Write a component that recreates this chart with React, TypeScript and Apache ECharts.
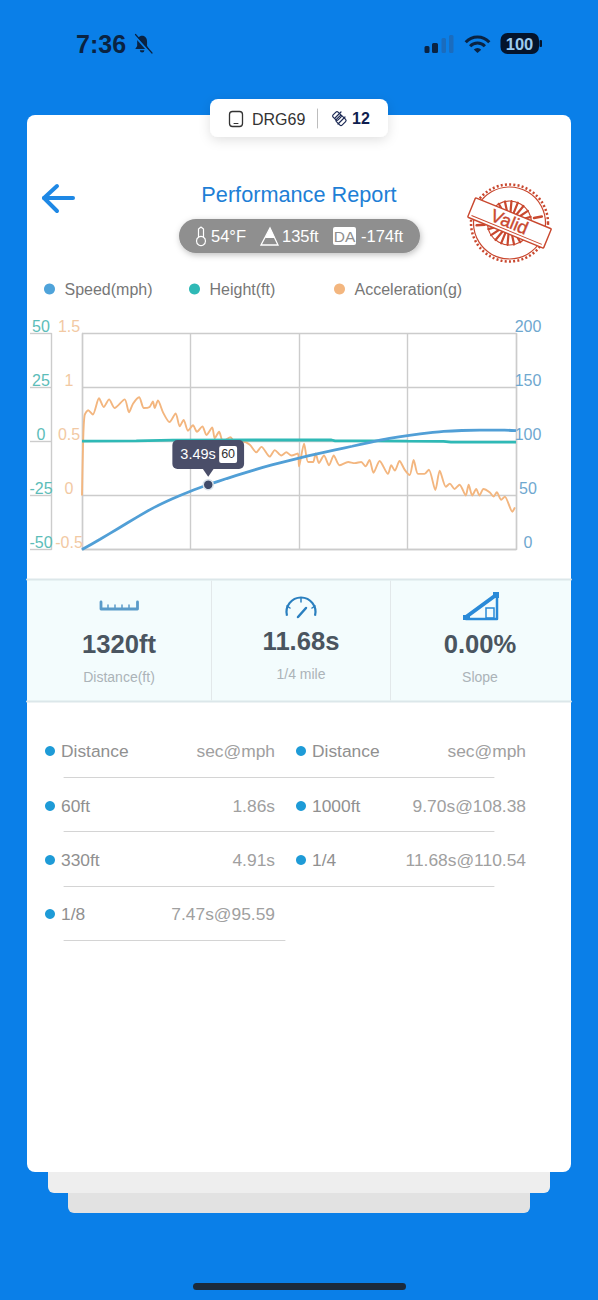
import React, { useEffect, useRef } from "react";
import * as echarts from "echarts";

const speedTimes = [0, 0.5, 1, 1.5, 2, 2.5, 3, 3.49, 4, 4.5, 5, 5.5, 6, 6.5, 7, 7.47, 8, 8.5, 9, 9.7, 10, 10.5, 11, 11.68, 12];
const speedValues = [0, 9.5, 19.5, 29.5, 39, 47, 54, 60, 65.7, 71, 76, 80.5, 84.7, 88.6, 92.2, 95.6, 99.5, 102.8, 105.5, 108.4, 109.4, 110.2, 110.5, 110.5, 110];

const heightTimes = [0, 1.5, 2.5, 5, 6.9, 7, 8, 9, 10, 10.2, 12];
const heightValues = [0.15, 0.3, 0.6, 0.7, 0.7, 0.3, 0.3, 0.15, 0.05, -0.3, -0.3];

const accelTimes = [0, 0.03, 0.07, 0.17, 0.3, 0.47, 0.6, 0.75, 0.9, 1.18, 1.3, 1.41, 1.58, 1.71, 1.87, 1.96, 2.01, 2.1, 2.24, 2.42, 2.59, 2.7, 2.81, 2.93, 3.07, 3.18, 3.33, 3.44, 3.6, 3.67, 3.79, 3.9, 4.1, 4.22, 4.45, 4.64, 4.82, 4.96, 5.19, 5.33, 5.51, 5.65, 5.79, 5.97, 6.0, 6.14, 6.25, 6.39, 6.46, 6.55, 6.69, 6.83, 6.96, 7.12, 7.36, 7.54, 7.72, 7.84, 7.95, 8.06, 8.23, 8.46, 8.55, 8.65, 8.78, 8.92, 9.06, 9.17, 9.29, 9.47, 9.59, 9.77, 9.89, 10.06, 10.17, 10.3, 10.44, 10.61, 10.69, 10.79, 10.9, 10.99, 11.1, 11.27, 11.38, 11.47, 11.59, 11.69, 11.9, 11.97];
const accelValues = [0, 0.48, 0.74, 0.79, 0.75, 0.9, 0.82, 0.89, 0.81, 0.89, 0.77, 0.85, 0.91, 0.81, 0.82, 0.87, 0.81, 0.88, 0.77, 0.68, 0.76, 0.64, 0.7, 0.6, 0.65, 0.59, 0.64, 0.56, 0.63, 0.53, 0.59, 0.5, 0.54, 0.5, 0.5, 0.47, 0.4, 0.45, 0.36, 0.42, 0.37, 0.4, 0.37, 0.39, 0.27, 0.48, 0.31, 0.31, 0.39, 0.3, 0.37, 0.28, 0.37, 0.28, 0.31, 0.3, 0.31, 0.27, 0.33, 0.21, 0.32, 0.2, 0.28, 0.23, 0.32, 0.24, 0.19, 0.33, 0.2, 0.2, 0.24, 0.05, 0.23, 0.08, 0.11, 0.06, 0.1, 0, 0.1, 0, 0.06, 0, 0.06, 0.03, -0.01, 0.03, -0.04, -0.01, -0.15, -0.11];

const markerTime = 3.49;
const markerSpeed = 60;

const tableRows = [
  ["Distance", "sec@mph", "Distance", "sec@mph"],
  ["60ft", "1.86s", "1000ft", "9.70s@108.38"],
  ["330ft", "4.91s", "1/4", "11.68s@110.54"],
  ["1/8", "7.47s@95.59", "", ""],
];
const statValues = ["1320ft", "11.68s", "0.00%"];
const statLabels = ["Distance(ft)", "1/4 mile", "Slope"];

const FONT = '"Liberation Sans", Arial, sans-serif';
const GRAY = "#cccccc";
const BLUE = "#0A7FE8";
const RED = "#C9482F";
const ICON = "#2A8AD8";
const DARK = "#0A2342";

const zip = (a: number[], b: number[]) => a.map((v, i) => [v, b[i]]);

const T = (text: string, x: number, y: number, size: number, fill: string, o: any = {}) => ({
  type: "text",
  x,
  y,
  z: 5,
  rotation: o.rotation || 0,
  style: {
    text,
    fill,
    font: `${o.weight || "normal"} ${size}px ${FONT}`,
    align: o.align || "left",
    verticalAlign: "middle",
  },
});
const R = (x: number, y: number, w: number, h: number, fill: string, r = 0, z = -5, extra: any = {}) => ({
  type: "rect",
  z,
  shape: { x, y, width: w, height: h, r },
  style: { fill, ...extra },
});
const L = (x1: number, y1: number, x2: number, y2: number, stroke: string, lineWidth = 1, z = -4) => ({
  type: "line",
  z,
  shape: { x1, y1, x2, y2 },
  style: { stroke, lineWidth, lineCap: "round" },
});
const PL = (points: number[][], stroke: string, lineWidth = 2, z = 5) => ({
  type: "polyline",
  z,
  shape: { points },
  style: { stroke, lineWidth, fill: "none", lineCap: "round", lineJoin: "round" },
});
const ARC = (cx: number, cy: number, r: number, a: number, b: number, stroke: string, lineWidth: number, z = 5) => ({
  type: "arc",
  z,
  shape: { cx, cy, r, startAngle: a, endAngle: b, clockwise: true },
  style: { stroke, lineWidth, fill: "none" },
});

echarts.graphic.registerShape(
  "bell",
  echarts.graphic.extendPath("M12 1C8 1 5.5 4 5.5 9v5L3 18h18l-2.5-4V9C18.500 4 16 1 12 1z M9 19.500a3 3 0 0 0 6 0z", {})
);

function stampElements() {
  const cx = 509.5;
  const cy = 223;
  const rot = -0.39;
  const els: any[] = [
    { type: "circle", z: 5, shape: { cx, cy, r: 38.5 }, style: { fill: "none", stroke: RED, lineWidth: 2.5, lineDash: [2, 2.2] } },
    { type: "circle", z: 5, shape: { cx, cy, r: 36 }, style: { fill: "none", stroke: RED, lineWidth: 1.2 } },
    { type: "circle", z: 5, shape: { cx, cy, r: 22 }, style: { fill: "none", stroke: RED, lineWidth: 1.2 } },
  ];
  [-Math.PI / 2 - rot, Math.PI / 2 - rot].forEach((center) => {
    for (let i = -3; i <= 3; i++) {
      const a = center + i * 0.3;
      els.push(L(cx + 11 * Math.cos(a), cy + 11 * Math.sin(a), cx + 22 * Math.cos(a), cy + 22 * Math.sin(a), RED, 2.2, 5));
    }
  });
  [Math.PI - 0.07, -0.2].forEach((a) => {
    els.push(L(cx + 25 * Math.cos(a), cy + 25 * Math.sin(a), cx + 33 * Math.cos(a), cy + 33 * Math.sin(a), RED, 2.5, 5));
  });
  els.push({
    type: "rect",
    z: 6,
    x: cx,
    y: cy,
    rotation: rot,
    shape: { x: -41, y: -10.5, width: 82, height: 21, r: 1 },
    style: { fill: "#fff", stroke: RED, lineWidth: 1.4 },
  });
  els.push({
    type: "line",
    z: 6,
    x: cx,
    y: cy,
    rotation: rot,
    shape: { x1: -38, y1: 7.5, x2: 38, y2: 7.5 },
    style: { stroke: RED, lineWidth: 1 },
  });
  els.push({
    type: "text",
    z: 7,
    x: cx,
    y: cy - 1,
    rotation: rot,
    style: { text: "Valid", fill: RED, stroke: RED, lineWidth: 0.4, font: `normal 18px ${FONT}`, align: "center", verticalAlign: "middle" },
  });
  return els;
}

function pageElements() {
  const els: any[] = [
    // stacked cards
    R(68, 1180, 462, 33, "#E2E2E2", 6, -9),
    R(48, 1160, 502, 33, "#EEEEEE", 6, -8),
    R(27, 115, 544, 1057, "#FFFFFF", 8, -7),
    // status bar
    T("7:36", 76, 44, 25, DARK, { weight: "bold" }),
    { type: "bell", z: 5, x: 133, y: 35, scaleX: 0.76, scaleY: 0.78, style: { fill: DARK } },
    L(134, 35, 151, 54, BLUE, 2, 6),
    L(135.5, 34.5, 152, 53, DARK, 1.2, 6),
    R(424.5, 46, 5, 7, DARK, 1.5, 5),
    R(432, 43, 6, 10, DARK, 1.5, 5),
    R(441.5, 38, 4.5, 15, "#1A6CBE", 1.5, 5),
    R(449, 35, 4.5, 18, "#1A6CBE", 1.5, 5),
    ARC(477.5, 53, 16, -2.4, -0.74, DARK, 3),
    ARC(477.5, 53, 10, -2.4, -0.74, DARK, 3),
    { type: "sector", z: 5, shape: { cx: 477.5, cy: 53, r0: 0, r: 5, startAngle: -2.4, endAngle: -0.74, clockwise: true }, style: { fill: DARK } },
    R(500.5, 33, 38.5, 21, "#04142C", 7, 5),
    R(539.5, 40, 2.5, 7, "#04142C", 1, 5),
    T("100", 519.5, 44, 16.5, "#9CCBEF", { weight: "bold", align: "center" }),
    // device chip
    R(210, 99, 178, 38, "#FFFFFF", 8, -3, { shadowBlur: 12, shadowColor: "rgba(0,0,0,0.12)", shadowOffsetY: 3 }),
    { type: "rect", z: 5, shape: { x: 229.5, y: 111.5, width: 13, height: 15, r: 3 }, style: { fill: "none", stroke: "#333", lineWidth: 1.3 } },
    L(234, 123.5, 238, 123.5, "#333", 1, 5),
    T("DRG69", 252, 119, 16, "#333333"),
    L(317.5, 109, 317.5, 128, "#BDBDBD", 1, 5),
    { type: "rect", z: 5, x: 337, y: 116, rotation: 0.785, shape: { x: -3.5, y: -3.5, width: 7, height: 7, r: 1.5 }, style: { fill: "none", stroke: "#1C2A55", lineWidth: 1.2 } },
    { type: "rect", z: 5, x: 341, y: 120.5, rotation: 0.785, shape: { x: -4, y: -4, width: 8, height: 8, r: 1.5 }, style: { fill: "none", stroke: "#1C2A55", lineWidth: 1.2 } },
    L(335, 118, 341, 112, "#1C2A55", 1.2, 5),
    L(338, 124, 345, 117, "#1C2A55", 1.2, 5),
    T("12", 352, 118, 16, "#0F1E50", { weight: "bold" }),
    // header
    PL([[57, 186], [44, 198], [57, 211]], "#1E88E5", 4),
    L(44, 198, 73, 198, "#1E88E5", 4, 5),
    T("Performance Report", 299, 194, 21.7, "#1E7FD6", { align: "center" }),
    R(179, 219, 241, 34, "#8F8F8F", 17, -3, { shadowBlur: 6, shadowColor: "rgba(0,0,0,0.25)", shadowOffsetX: 1, shadowOffsetY: 2 }),
    { type: "circle", z: 5, shape: { cx: 201, cy: 241, r: 4.5 }, style: { fill: "none", stroke: "#fff", lineWidth: 1.2 } },
    PL([[198.5, 237], [198.5, 229], [201, 227], [203.5, 229], [203.5, 237]], "#fff", 1.2),
    T("54°F", 211, 236, 16.5, "#FFFFFF"),
    { type: "polygon", z: 5, shape: { points: [[261, 245], [270, 228], [278, 245]] }, style: { fill: "none", stroke: "#fff", lineWidth: 1.3 } },
    { type: "polygon", z: 5, shape: { points: [[265, 238], [270, 228], [275, 238]] }, style: { fill: "#fff" } },
    T("135ft", 282, 236, 16.5, "#FFFFFF"),
    R(333, 227, 23, 18, "#FFFFFF", 2, 4),
    T("DA", 344.5, 236, 15.5, "#8F8F8F", { align: "center" }),
    T("-174ft", 361, 236, 16.5, "#FFFFFF"),
    ...stampElements(),
    // stat panel
    R(27, 580, 544, 121, "#F3FCFD", 0, -6),
    L(27, 579.5, 571, 579.5, "#DCE7EA", 2, -4),
    L(27, 701.5, 571, 701.5, "#DCE7EA", 2, -4),
    L(211.5, 581, 211.5, 700, "#E2E8EA", 1, -4),
    L(390.5, 581, 390.5, 700, "#E2E8EA", 1, -4),
    // ruler icon
    PL([[101, 602], [101, 609], [137.5, 609], [137.5, 602]], "#5B9BC9", 2.8),
    L(108, 605, 108, 609, "#5B9BC9", 1.5, 5),
    L(115, 605, 115, 609, "#5B9BC9", 1.5, 5),
    L(122, 605, 122, 609, "#5B9BC9", 1.5, 5),
    L(129, 605, 129, 609, "#5B9BC9", 1.5, 5),
    // gauge icon
    ARC(301, 612, 14.5, -3.4, 0.26, "#2A7FBF", 2.2),
    L(298, 617, 306, 608, "#2A7FBF", 2.5, 5),
    L(287, 606, 290, 608, "#2A7FBF", 1.5, 5),
    L(301, 598, 301, 602, "#2A7FBF", 1.5, 5),
    L(315, 606, 312, 608, "#2A7FBF", 1.5, 5),
    // slope icon
    L(466, 617, 496, 595, ICON, 4, 5),
    PL([[466, 619], [497, 619], [497, 595]], ICON, 2.5),
    { type: "rect", z: 5, shape: { x: 463, y: 615, width: 7, height: 5 }, style: { fill: ICON } },
    { type: "rect", z: 5, shape: { x: 493, y: 592, width: 6, height: 6 }, style: { fill: ICON } },
    { type: "rect", z: 5, shape: { x: 486, y: 608, width: 8, height: 10 }, style: { fill: "none", stroke: ICON, lineWidth: 1.5 } },
    T(statValues[0], 119, 644, 25.6, "#4A5560", { weight: "bold", align: "center" }),
    T(statValues[1], 301, 641, 25.6, "#4A5560", { weight: "bold", align: "center" }),
    T(statValues[2], 480, 644, 25.6, "#4A5560", { weight: "bold", align: "center" }),
    T(statLabels[0], 119, 677, 14, "#ABB3B8", { align: "center" }),
    T(statLabels[1], 301, 674, 14, "#ABB3B8", { align: "center" }),
    T(statLabels[2], 480, 677, 14, "#ABB3B8", { align: "center" }),
  ];
  const rowY = [751, 806, 860, 914];
  const lineY = [777, 831, 886, 940];
  tableRows.forEach((row, i) => {
    const y = rowY[i];
    els.push({ type: "circle", z: 5, shape: { cx: 50, cy: y, r: 5 }, style: { fill: "#1E9BD7" } });
    els.push(T(row[0], 61, y, 17.4, "#909090"));
    els.push(T(row[1], 275, y, 17.4, "#A0A0A0", { align: "right" }));
    if (row[2]) {
      els.push({ type: "circle", z: 5, shape: { cx: 301, cy: y, r: 5 }, style: { fill: "#1E9BD7" } });
      els.push(T(row[2], 312, y, 17.4, "#909090"));
      els.push(T(row[3], 526, y, 17.4, "#A0A0A0", { align: "right" }));
    }
    els.push(L(64, lineY[i] + 0.5, row[2] ? 494 : 285, lineY[i] + 0.5, "#D4D4D4", 1, 5));
  });
  els.push(R(193, 1283, 213, 7, "#1B2A3C", 3.5, 5));
  return els;
}

const yCommon = {
  type: "value",
  axisTick: { show: false },
  splitLine: { show: false },
};
const legendCommon = {
  icon: "circle",
  itemWidth: 20,
  itemHeight: 11,
  top: 276,
  textStyle: { color: "#777777", fontSize: 16, fontFamily: FONT },
};
const axisLineStyle = { show: true, onZero: false, lineStyle: { color: GRAY, width: 1.4 } };

export default function App() {
  const ref = useRef<HTMLDivElement>(null);
  useEffect(() => {
    const chart = echarts.init(ref.current!, undefined, { renderer: "svg" });
    chart.setOption({
      animation: false,
      backgroundColor: BLUE,
      textStyle: { fontFamily: FONT },
      grid: { left: 82, right: 82, top: 333.5, height: 216, containLabel: false },
      legend: [
        { ...legendCommon, left: 39, data: ["Speed(mph)"] },
        { ...legendCommon, left: 184, data: ["Height(ft)"] },
        { ...legendCommon, left: 329, data: ["Acceleration(g)"] },
      ],
      xAxis: {
        type: "value",
        min: 0,
        max: 12,
        interval: 3,
        axisLabel: { show: false },
        axisTick: { show: false },
        axisLine: axisLineStyle,
        splitLine: { show: true, lineStyle: { color: GRAY, width: 1.4 } },
      },
      yAxis: [
        {
          ...yCommon,
          position: "left",
          offset: 31,
          min: -50,
          max: 50,
          interval: 25,
          axisLine: axisLineStyle,
          axisTick: { show: true, length: 21, lineStyle: { color: GRAY, width: 1.4 } },
          axisLabel: { color: "#5CBDB9", fontSize: 16, fontFamily: FONT, margin: 10, align: "center", verticalAlign: "bottom", lineHeight: 14 },
        },
        {
          ...yCommon,
          position: "left",
          min: -0.5,
          max: 1.5,
          interval: 0.5,
          axisLine: axisLineStyle,
          axisLabel: { color: "#F2C9A3", fontSize: 16, fontFamily: FONT, margin: 13, align: "center", verticalAlign: "bottom", lineHeight: 14 },
          splitLine: { show: true, lineStyle: { color: GRAY, width: 1.4 } },
        },
        {
          ...yCommon,
          position: "right",
          min: 0,
          max: 200,
          interval: 50,
          axisLine: axisLineStyle,
          axisLabel: { color: "#6FA8CF", fontSize: 16, fontFamily: FONT, margin: 12, align: "center", verticalAlign: "bottom", lineHeight: 14 },
        },
      ],
      series: [
        {
          name: "Acceleration(g)",
          type: "line",
          yAxisIndex: 1,
          data: zip(accelTimes, accelValues),
          smooth: 0.25,
          showSymbol: false,
          itemStyle: { color: "#F3B67F" },
          lineStyle: { color: "#F3B67F", width: 1.9 },
        },
        {
          name: "Height(ft)",
          type: "line",
          yAxisIndex: 0,
          data: zip(heightTimes, heightValues),
          showSymbol: false,
          itemStyle: { color: "#2FB9B6" },
          lineStyle: { color: "#2FB9B6", width: 2.8 },
        },
        {
          name: "Speed(mph)",
          type: "line",
          yAxisIndex: 2,
          data: zip(speedTimes, speedValues),
          smooth: 0.2,
          showSymbol: false,
          itemStyle: { color: "#4FA3DA" },
          lineStyle: { color: "#519FD6", width: 2.8 },
        },
        {
          name: "marker",
          type: "scatter",
          yAxisIndex: 2,
          data: [[markerTime, markerSpeed]],
          symbol: "circle",
          symbolSize: 10,
          z: 10,
          itemStyle: { color: "#3F4A68", borderColor: "#D9E2EA", borderWidth: 1.5, opacity: 1 },
          label: {
            show: true,
            position: "top",
            distance: 10,
            opacity: 1,
            formatter: () => `{t|${markerTime}s} {b|${markerSpeed}}`,
            backgroundColor: "#4A4E69",
            borderRadius: 5,
            padding: [6, 7, 6, 8],
            rich: {
              t: { color: "#FFFFFF", fontSize: 14.5, fontFamily: FONT },
              b: { color: "#333333", backgroundColor: "#FFFFFF", fontSize: 12.5, fontFamily: FONT, padding: [2, 2, 2, 2], borderRadius: 2 },
            },
          },
        },
        {
          name: "markerArrow",
          type: "scatter",
          yAxisIndex: 2,
          data: [[markerTime, markerSpeed]],
          symbol: "triangle",
          symbolRotate: 180,
          symbolSize: [11, 8],
          symbolOffset: [0, -12],
          z: 9,
          itemStyle: { color: "#4A4E69", opacity: 1 },
          silent: true,
        },
      ],
      graphic: { elements: pageElements() },
    });
    return () => chart.dispose();
  }, []);
  return <div ref={ref} style={{ position: "absolute", left: 0, top: 0, width: 598, height: 1300 }} />;
}
